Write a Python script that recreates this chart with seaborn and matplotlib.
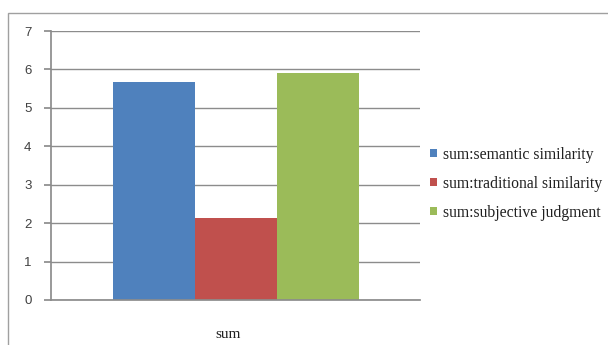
import matplotlib
matplotlib.use("Agg")
import matplotlib.pyplot as plt
import seaborn as sns
import pandas as pd
from matplotlib.patches import Rectangle, Patch

categories = ["sum"]
series = ["sum:semantic similarity", "sum:traditional similarity", "sum:subjective judgment"]
values = [5.68, 2.14, 5.92]
colors = ["#4f81bd", "#c0504d", "#9bbb59"]
yticks = [0, 1, 2, 3, 4, 5, 6, 7]

df = pd.DataFrame({"cat": categories * len(series), "series": series, "value": values})

sns.set_theme(style="white")
plt.rcParams['font.family'] = ["Liberation Sans", "DejaVu Sans"]

fig = plt.figure(figsize=(6.08, 3.45), dpi=100)
ax = fig.add_axes([51 / 608, 45 / 345, 369 / 608, 269 / 345])

sns.barplot(data=df, x="cat", y="value", hue="series", palette=colors,
            width=2 / 3, gap=0, saturation=1, linewidth=0, ax=ax, legend=False)

ax.set_xlim(-0.5, 0.5)
ax.set_ylim(0, 7)
ax.set_yticks(yticks)
ax.yaxis.grid(True, color="#8c8c8c", linewidth=1)
ax.set_axisbelow(True)
ax.set_xlabel("")
ax.set_ylabel("")
for s in ["top", "right"]:
    ax.spines[s].set_visible(False)
ax.spines["left"].set_color("#8c8c8c")
ax.spines["bottom"].set_color("#8c8c8c")
ax.tick_params(axis="y", left=True, length=5, color="#8c8c8c", labelsize=9.5, labelcolor="#404040", pad=9)
ax.tick_params(axis="x", bottom=False, labelsize=11, pad=14)
ax.set_xticks([-0.02])
ax.set_xticklabels(categories, family="Liberation Serif", color="#202020")

# outer chart border
fig.patches.append(Rectangle((8 / 608, -0.1), 1.2, (345 - 13) / 345 + 0.1,
                             transform=fig.transFigure, fill=False,
                             edgecolor="#a0a0a0", linewidth=1))

handles = [Patch(facecolor=c, edgecolor="none") for c in colors]
fig.legend(handles, series, loc="upper left", bbox_to_anchor=(430 / 608, (345 - 147) / 345),
           frameon=False, prop={"family": "Liberation Serif", "size": 11.3},
           borderpad=0, borderaxespad=0,
           handlelength=0.45, handleheight=0.4, handletextpad=0.4, labelspacing=0.82,
           labelcolor="#202020")

fig.savefig("out.png", dpi=100)
